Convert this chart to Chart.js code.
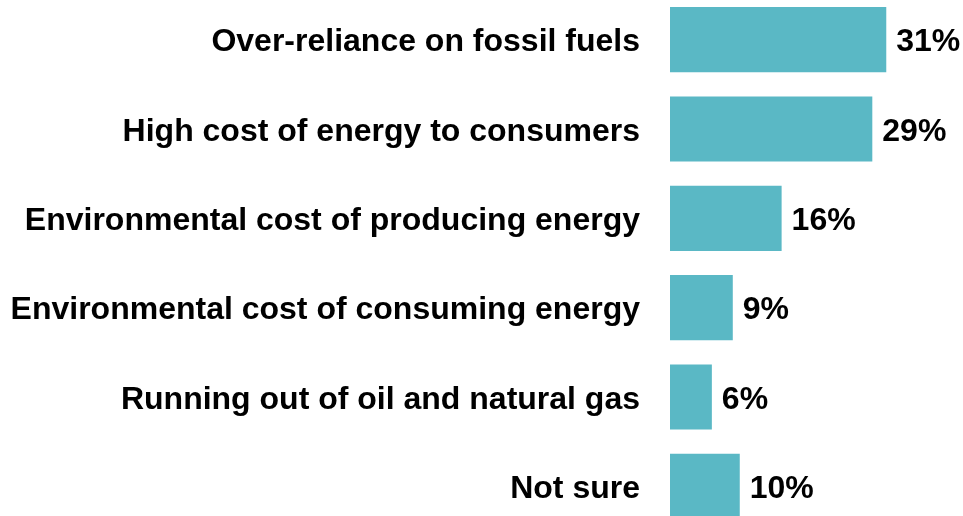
<!DOCTYPE html>
<html>
<head>
<meta charset="utf-8">
<script src="https://cdn.jsdelivr.net/npm/chart.js@4"></script>
<style>
  html, body { margin: 0; padding: 0; background: #fff; overflow: hidden; }
  #wrap { position: absolute; left: 0; top: -5px; width: 963px; height: 536px; }
</style>
</head>
<body>
<div id="wrap"><canvas id="issuesChart"></canvas></div>
<script>
const barColor = '#5AB8C5';
const labelFont = { family: 'Liberation Sans, Arial, sans-serif', size: 32, weight: 'bold' };

// categories and values (%)
const categories = [
  'Over-reliance on fossil fuels',
  'High cost of energy to consumers',
  'Environmental cost of producing energy',
  'Environmental cost of consuming energy',
  'Running out of oil and natural gas',
  'Not sure'
];
const shares = [31, 29, 16, 9, 6, 10];

// value labels to the right of each bar
const valueLabels = {
  id: 'valueLabels',
  afterDatasetsDraw(chart) {
    const ctx = chart.ctx;
    const meta = chart.getDatasetMeta(0);
    ctx.save();
    ctx.font = 'bold ' + labelFont.size + 'px ' + labelFont.family;
    ctx.fillStyle = '#000';
    ctx.textAlign = 'left';
    ctx.textBaseline = 'middle';
    meta.data.forEach((bar, i) => {
      ctx.fillText(shares[i] + '%', bar.x + 10, bar.y + 3);
    });
    ctx.restore();
  }
};

new Chart(document.getElementById('issuesChart'), {
  type: 'bar',
  data: {
    labels: categories,
    datasets: [{
      data: shares,
      backgroundColor: barColor,
      borderWidth: 0,
      categoryPercentage: 1,
      barPercentage: 0.73
    }]
  },
  options: {
    indexAxis: 'y',
    responsive: true,
    maintainAspectRatio: false,
    animation: false,
    layout: { padding: 0 },
    plugins: {
      legend: { display: false },
      tooltip: { enabled: false }
    },
    scales: {
      x: {
        display: false,
        min: 0,
        max: 42
      },
      y: {
        grid: { display: false },
        border: { display: false },
        ticks: {
          color: '#000',
          font: labelFont,
          padding: 22,
          labelOffset: 3
        },
        afterFit(scale) {
          scale.width = 670;
          scale.paddingTop = 0;
          scale.paddingBottom = 0;
        }
      }
    }
  },
  plugins: [valueLabels]
});
</script>
</body>
</html>
